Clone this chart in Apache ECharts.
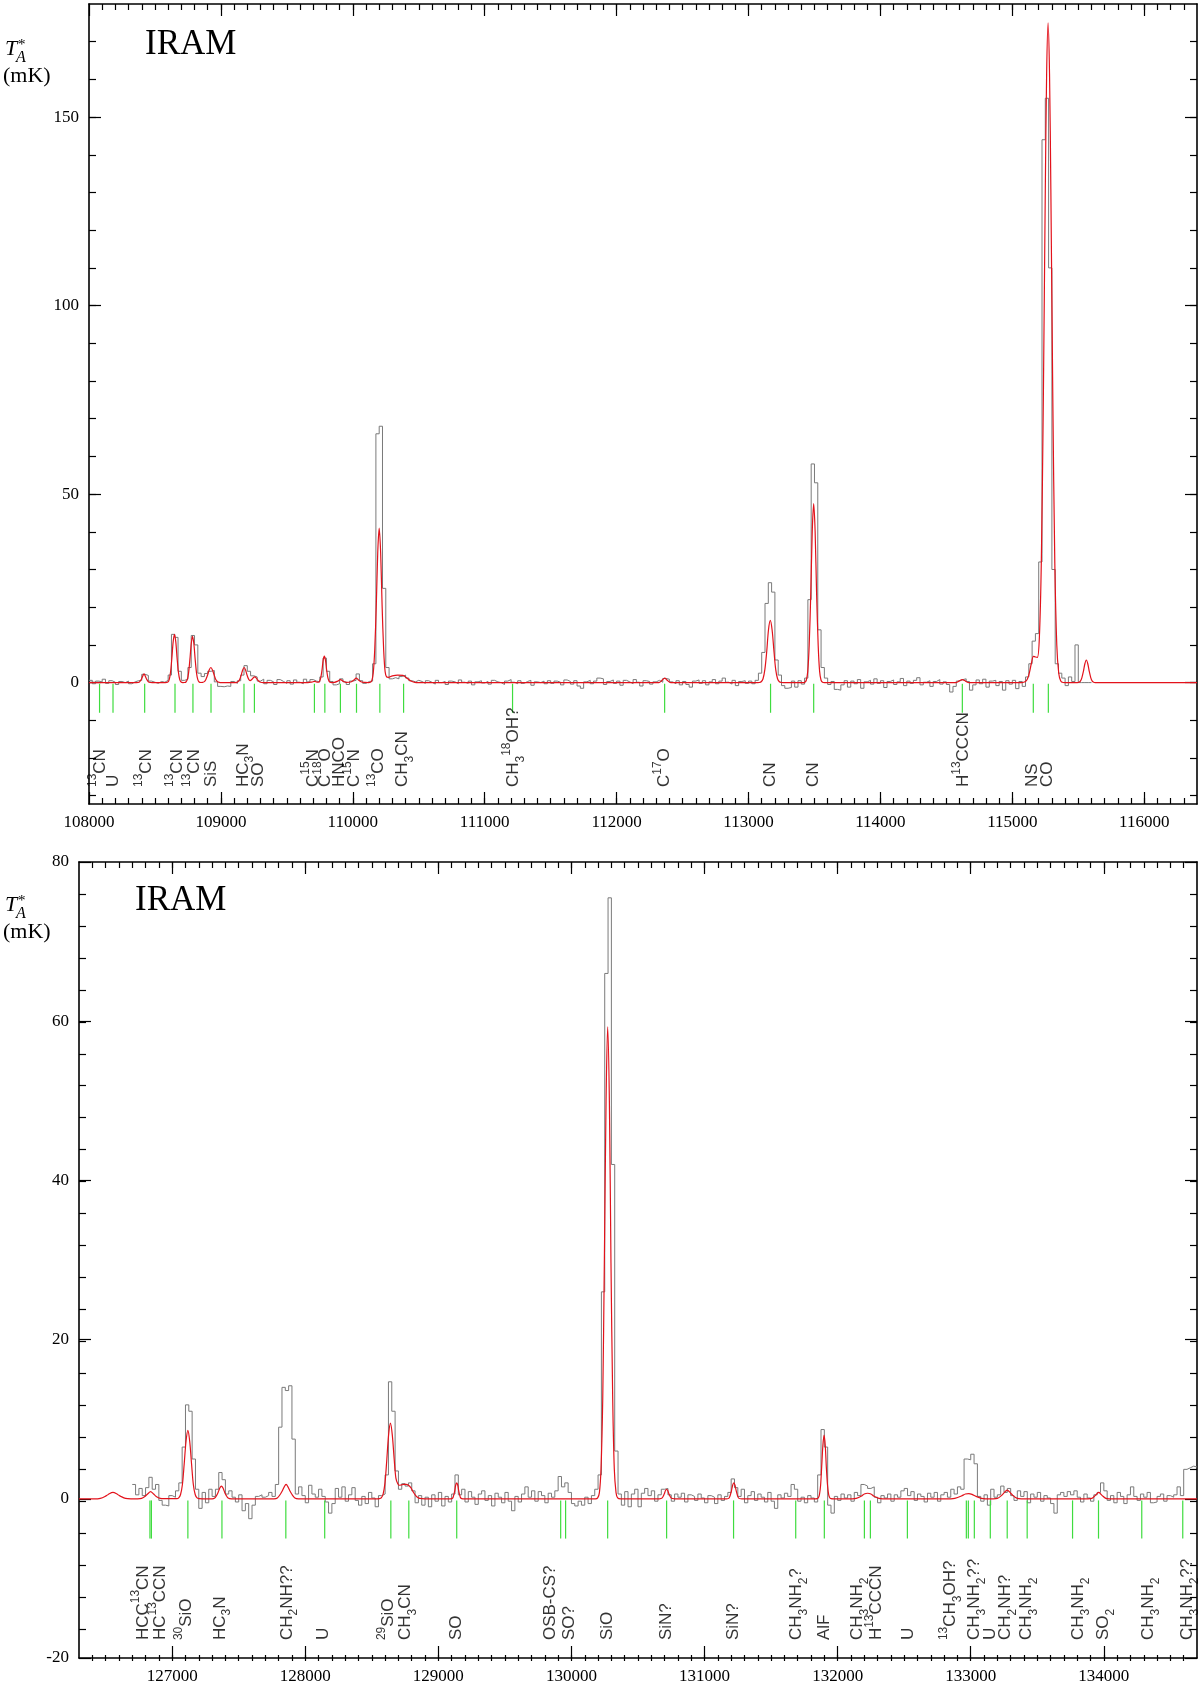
<!DOCTYPE html>
<html><head><meta charset="utf-8">
<script src="https://cdn.jsdelivr.net/npm/echarts@6/dist/echarts.min.js"></script>
<style>html,body{margin:0;padding:0;background:#fff}#c{width:1200px;height:1685px}</style>
</head><body><div id="c"></div><script>
// ---------------- DATA ----------------
const specChan = 25; // MHz per channel
const topSpecStart = 108000;
const topSpectrum = [
0.6,-0.3,0.4,0.2,0.9,-0.2,0.5,0.1,-0.5,0.3,0.0,0.4,-0.3,0.2,0.5,0.6,2.2,1.9,0.4,0.1,
-0.2,0.3,0.1,0.6,2.0,12.8,12.0,3.0,0.6,0.9,4.0,12.5,10.0,2.5,1.6,2.4,3.0,3.2,0.2,-1.0,
-1.1,-0.9,-1.0,0.3,-0.2,0.5,2.0,4.5,3.0,1.8,1.5,0.4,0.9,-0.3,0.6,0.2,-0.5,0.8,0.3,-0.2,
0.5,-0.4,0.7,0.1,-0.3,0.9,0.2,0.8,0.4,0.2,1.5,6.5,3.0,0.3,-0.6,-0.3,1.0,0.2,-0.5,0.4,
0.6,2.3,0.5,-0.2,0.3,0.4,5.0,66,68,25,4.0,1.0,1.3,1.0,1.6,2.0,1.2,0.5,0.2,0.6,
0.3,-0.2,0.5,0.1,-0.4,0.6,0.0,0.3,-0.5,0.4,0.2,-0.3,0.7,0.1,-0.2,0.4,-0.6,0.2,0.5,-0.1,
0.3,-0.4,0.6,0.2,0.0,-0.5,0.4,0.8,0.1,-0.3,0.5,-0.2,0.3,0.6,-0.7,0.2,0.0,0.4,-0.3,0.5,
-0.2,0.4,0.1,-0.6,0.7,0.3,-0.4,0.5,-0.9,-1.5,0.2,0.6,-0.3,0.4,1.2,1.0,-0.5,0.3,0.7,-0.2,
0.4,-0.7,0.6,0.2,-0.3,0.8,0.1,-0.9,0.5,0.3,-0.4,0.2,0.6,0.1,1.1,0.9,0.2,-0.3,0.5,-0.6,
0.3,-0.5,-1.2,0.4,0.7,-0.2,0.5,-0.6,0.2,0.8,-0.3,0.4,1.2,0.1,-0.4,0.6,-0.8,0.3,0.5,-0.2,
0.4,-0.3,0.6,2.5,8.0,21,26.5,24,6.0,2.0,-0.8,-1.5,-1.3,0.4,-1.2,0.5,-0.4,1.2,22,58,
53,14,4.0,1.2,-0.5,0.3,-1.8,-2.0,-0.6,0.5,-1.2,0.4,-0.3,0.8,-1.5,0.2,0.6,-0.4,1.0,-0.2,
0.5,-1.3,0.3,0.7,-0.5,0.2,1.1,-0.8,0.4,-0.2,0.6,1.3,-0.6,0.1,0.5,-1.0,0.3,0.8,-0.4,0.2,
-0.5,-2.5,-1.0,0.4,0.8,1.0,0.3,-2.0,-0.6,0.7,-0.3,0.9,-1.2,0.4,0.6,-0.8,0.3,-2.0,0.5,-0.4,
0.6,-1.6,0.3,-1.0,1.5,5.0,11,13,32,144,155,110,30,5.0,2.5,1.2,-0.8,1.5,0.3,10,0,0,0,0
];
const topModel = [
[108000,0],[108360,0],[108380,0.1],[108397,0.9],[108407,1.7],[108417,2.3],[108427,1.7],[108437,0.9],[108455,0.1],[108480,0],
[108578,0],[108598,0.17],[108608,0.8],[108618,2.7],[108628,6.4],[108638,10.8],[108648,12.8],[108658,10.8],[108668,6.4],[108678,2.7],[108688,0.8],[108698,0.17],[108712,0.02],
[108725,0.03],[108735,0.16],[108745,0.77],[108755,2.6],[108765,6.15],[108775,10.3],[108785,12.3],[108795,10.3],[108805,6.15],[108815,2.6],[108825,0.77],[108835,0.16],[108848,0.03],
[108861,0.05],[108874,0.25],[108886,0.84],[108899,2.0],[108911,3.36],[108924,4.0],[108936,3.36],[108949,2.0],[108961,0.84],[108974,0.25],[108987,0.05],[109005,0],
[109100,0],[109120,0.05],[109131,0.25],[109142,0.84],[109154,2.0],[109165,3.36],[109176,4.0],[109187,3.36],[109198,2.02],[109210,0.93],[109221,0.53],[109232,0.74],[109244,1.24],[109256,1.5],[109267,1.26],[109278,0.75],[109290,0.3],[109301,0.09],[109320,0.01],
[109660,0],[109690,0.15],[109709,0.3],[109728,0.15],[109740,0.1],[109749,0.44],[109758,1.47],[109767,3.5],[109775,5.9],[109784,7.0],[109793,5.9],[109801,3.5],[109810,1.47],[109819,0.44],[109828,0.09],[109840,0.01],
[109860,0.05],[109886,0.4],[109906,0.8],[109926,0.4],[109950,0.05],
[109985,0.15],[110006,0.6],[110026,1.2],[110046,0.6],[110066,0.15],[110090,0.05],
[110120,0.02],[110133,0.08],[110144,0.54],[110155,2.56],[110166,8.6],[110178,20.5],[110189,34.5],[110200,41],[110211,34.5],[110222,20.5],[110234,8.6],[110245,2.9],[110256,1.5],[110270,1.4],[110300,1.8],[110340,2.0],[110380,1.9],[110410,1.2],[110440,0.4],[110470,0.05],[110500,0],
[112320,0],[112344,0.6],[112364,1.2],[112384,0.6],[112410,0],
[113070,0],[113083,0.03],[113096,0.22],[113110,1.03],[113124,3.5],[113138,8.25],[113151,13.9],[113165,16.5],[113179,13.9],[113193,8.25],[113206,3.5],[113220,1.03],[113234,0.22],[113248,0.03],[113265,0],
[113415,0],[113427,0.1],[113438,0.62],[113449,2.97],[113460,10.0],[113472,23.75],[113483,40],[113494,47.5],[113505,40],[113516,23.75],[113528,10.0],[113539,2.97],[113550,0.62],[113561,0.1],[113575,0],
[114570,0],[114595,0.4],[114620,0.8],[114645,0.4],[114670,0],
[115070,0],[115100,0.28],[115115,1.0],[115130,2.7],[115145,5.2],[115160,6.95],[115175,6.8],[115190,6.7],[115205,12],[115220,32.4],[115235,75],[115250,131],[115260,161.5],[115271,175],[115282,161.5],[115292,131],[115307,74.8],[115322,31.7],[115337,10.0],[115352,2.4],[115367,0.42],[115385,0.03],[115400,0],
[115480,0],[115494,0.01],[115505,0.08],[115516,0.38],[115527,1.26],[115539,3.0],[115550,5.0],[115561,6.0],[115572,5.0],[115583,3.0],[115595,1.26],[115606,0.38],[115617,0.08],[115628,0.01],[115650,0],[116400,0]
];
const topLineFreqs = [108080,108182,108422,108652,108788,108925,109175,109254,109709,109788,109906,110028,110205,110385,111211,112364,113167,113494,114621,115159,115273];
const topLabelFreqs = [108083,108182,108432,108667,108795,108924,109167,109280,109697,109788,109894,110015,110197,110379,111220,112364,113167,113493,114629,115152,115265];
const topLabelTexts = ['^13^CN','U','^13^CN','^13^CN','^13^CN','SiS','HC_3_N','SO','C^15^N','C^18^O','HNCO','C^15^N','^13^CO','CH_3_CN','CH_3_^18^OH?','C^17^O','CN','CN','H^13^CCCN','NS','CO'];
const topXTicks = [108000,109000,110000,111000,112000,113000,114000,115000,116000];
const topYTicks = [0,50,100,150];

const botSpecStart = 126700;
const botSpectrum = [
1.8,0.5,1.3,0.4,1.4,2.7,1.2,1.8,-0.2,-0.8,-0.9,0.4,0.2,1.0,2.0,6.5,11.8,11.0,5.0,1.2,
-1.2,0.8,-0.5,1.2,0.3,1.2,3.3,2.4,0.6,1.0,0.2,-0.4,0.5,-1.5,-0.6,-2.5,-0.8,0.3,0.5,0.2,
0.4,0.8,0.3,1.8,9.0,14.0,13.6,14.2,7.5,0.6,1.5,0.4,-0.5,1.7,0.6,0.2,1.2,0.3,-0.4,-1.8,
-0.6,1.3,0.2,1.5,-0.3,0.5,1.4,-0.2,-0.8,0.3,-0.6,0.8,0.1,-1.0,0.4,0.6,3.0,14.7,11.0,3.5,
1.2,1.9,1.6,2.0,1.0,-0.5,0.4,-0.8,0.2,-1.0,0.5,-0.3,0.8,-0.9,0.3,-0.4,0.6,3.0,0.5,1.2,
-0.4,0.9,0.2,-0.7,0.6,1.0,-0.2,0.4,-0.9,0.7,0.2,-0.5,0.8,-0.3,-1.5,0.3,-0.4,0.6,1.5,0.2,
1.0,-0.3,0.9,0.4,-0.5,0.7,0.2,1.0,2.8,1.5,2.0,0.8,-0.6,-0.9,-0.3,-0.8,0.2,-0.6,0.4,1.2,
3.0,26,66,75.5,42,6.0,0.6,-0.8,0.9,-1.0,0.6,1.2,-1.0,0.7,1.3,0.4,1.0,-0.3,0.5,1.2,
1.3,0.5,-0.3,0.6,0.2,0.7,-0.4,0.5,0.3,-0.2,0.6,0.1,-0.5,0.4,0.2,-0.6,0.5,-0.2,0.3,0.8,
2.5,1.4,0.3,1.2,-0.5,0.4,0.9,-0.2,0.6,0.2,-0.4,0.8,-0.3,-1.2,0.5,0.1,0.7,0.3,1.8,1.2,
-0.3,0.2,-0.5,0.4,0.1,-0.4,3.0,8.7,6.5,-0.8,-1.8,0.3,-0.2,0.6,0.1,0.5,-0.3,0.8,0.4,1.8,
1.6,1.3,1.5,0.2,-0.5,0.4,0.1,0.6,-0.3,0.5,0.2,1.0,1.3,0.4,0.9,-0.2,0.6,0.3,-0.4,0.7,
0.2,0.8,-0.3,0.5,0.8,0.2,1.2,0.6,1.5,1.2,5.0,4.9,5.6,4.4,0.3,-0.3,0.5,-0.8,1.2,0.2,
0.5,1.6,0.8,1.3,0.4,-0.2,1.0,0.3,0.9,-0.5,0.6,0.2,0.8,-0.3,0.4,0.1,-0.6,-1.8,0.5,0.8,
0.3,0.9,0.5,1.0,0.2,-0.4,0.6,0.1,-0.3,0.5,0.8,2.0,1.0,-0.2,0.4,-0.5,0.8,0.3,-0.6,0.5,
1.5,0.3,-0.2,0.6,0.2,0.8,-0.5,-0.4,0.3,0.6,-0.3,0.4,0.2,0.5,1.5,0.4,3.7,3.9,4.1,4.0
];
const botModel = [
[126300,0],[126440,0],[126460,0.05],[126495,0.3],[126520,0.55],[126555,0.8],[126590,0.55],[126615,0.3],[126650,0.05],[126690,0],
[126740,0],[126770,0.05],[126795,0.3],[126815,0.6],[126838,0.9],[126860,0.6],[126880,0.3],[126910,0.05],[126940,0.01],
[127035,0.02],[127049,0.11],[127063,0.54],[127077,1.8],[127090,4.3],[127104,7.2],[127118,8.6],[127132,7.2],[127146,4.3],[127159,1.8],[127173,0.54],[127187,0.11],[127201,0.02],[127230,0],
[127300,0],[127320,0.1],[127333,0.4],[127345,0.8],[127358,1.35],[127370,1.6],[127382,1.35],[127395,0.8],[127407,0.4],[127420,0.1],[127445,0],
[127765,0],[127790,0.1],[127814,0.6],[127828,1.0],[127842,1.5],[127856,1.8],[127870,1.5],[127884,1.0],[127898,0.6],[127922,0.1],[127950,0],
[128540,0],[128557,0.02],[128571,0.12],[128585,0.6],[128599,2.0],[128612,4.75],[128626,8.0],[128640,9.5],[128654,8.0],[128668,5.0],[128681,2.6],[128695,1.9],[128709,1.7],[128723,1.75],[128740,1.8],[128757,1.8],[128775,1.7],[128793,1.4],[128810,0.9],[128830,0.4],[128850,0.12],[128875,0.02],[128900,0],
[129090,0],[129108,0.1],[129116,0.5],[129123,1.0],[129130,1.7],[129138,2.0],[129146,1.7],[129153,1.0],[129160,0.5],[129168,0.1],[129185,0],
[130180,0],[130197,0.12],[130210,0.78],[130222,3.7],[130235,12.5],[130247,29.6],[130260,49.9],[130272,59.3],[130285,49.9],[130297,29.6],[130310,12.5],[130322,3.7],[130335,0.78],[130347,0.12],[130370,0],
[130660,0],[130680,0.08],[130697,0.6],[130706,1.0],[130715,1.2],[130724,1.0],[130733,0.6],[130750,0.08],[130775,0],
[131165,0],[131185,0.1],[131202,1.0],[131211,1.7],[131220,2.0],[131229,1.7],[131238,1.0],[131255,0.1],[131280,0],
[131830,0],[131846,0.02],[131854,0.1],[131863,0.5],[131872,1.7],[131880,4.0],[131889,6.7],[131898,8.0],[131907,6.7],[131915,4.0],[131924,1.7],[131933,0.5],[131942,0.1],[131950,0.02],[131970,0],
[132110,0],[132140,0.05],[132180,0.35],[132200,0.6],[132225,0.7],[132250,0.6],[132270,0.35],[132310,0.05],[132340,0],
[132850,0],[132880,0.05],[132930,0.35],[132960,0.6],[132985,0.65],[133010,0.55],[133040,0.3],[133080,0.05],[133110,0],
[133170,0],[133200,0.05],[133230,0.4],[133250,0.75],[133274,1.1],[133298,0.75],[133318,0.4],[133350,0.05],[133380,0],
[133880,0],[133910,0.05],[133935,0.4],[133962,0.8],[133988,0.4],[134015,0.05],[134040,0],[134700,0]
];
const botLineFreqs = [126833,126844,127118,127374,127854,128146,128643,128778,129138,129919,129956,130272,130715,131218,131685,131900,132201,132246,132524,132967,132982,133027,133147,133274,133424,133765,133960,134285,134593];
const botLabelFreqs = [126780,126908,127103,127359,127862,128132,128627,128755,129138,129844,129986,130272,130715,131218,131691,131901,132149,132291,132532,132847,133027,133147,133260,133418,133808,133996,134334,134627];
const botLabelTexts = ['HCC^13^CN','HC^13^CCN','^30^SiO','HC_3_N','CH_2_NH??','U','^29^SiO','CH_3_CN','SO','OSB-CS?','SO?','SiO','SiN?','SiN?','CH_3_NH_2_?','AlF','CH_3_NH_2_','H^13^CCCN','U','^13^CH_3_OH?','CH_3_NH_2_??','U','CH_2_NH?','CH_3_NH_2_','CH_3_NH_2_','SO_2_','CH_3_NH_2_','CH_3_NH_2_??'];
const botXTicks = [127000,128000,129000,130000,131000,132000,133000,134000];
const botYTicks = [-20,0,20,40,60,80];

// ---------------- BUILD ----------------
function range(a, b, s) { const r = []; for (let v = a; v <= b + 1e-9; v += s) r.push(Math.round(v * 1000) / 1000); return r; }
function specData(start, vals) {
  const d = vals.map((v, i) => [start + i * specChan, v]);
  d.push([start + vals.length * specChan, vals[vals.length - 1]]);
  return d;
}
function toRich(s) {
  let out = ''; const re = /\^([^\^]+)\^|_([^_]+)_|([^\^_]+)/g; let m;
  while ((m = re.exec(s))) {
    if (m[1]) out += '{sp|' + m[1] + '}';
    else if (m[2]) out += '{sb|' + m[2] + '}';
    else out += '{n|' + m[3] + '}';
  }
  return out;
}
const TOP = { xmin: 108000, xmax: 116400, ymin: -32.2, ymax: 180 };
const BOT = { xmin: 126300, xmax: 134700, ymin: -20, ymax: 80 };
const grids = [
  { left: 89, top: 4, width: 1108, height: 800 },
  { left: 89, top: 4, width: 1108, height: 800 },
  { left: 79, top: 862, width: 1118, height: 799 },
  { left: 79, top: 862, width: 1118, height: 799 }
];
const lblFont = { color: '#000', fontFamily: '"Liberation Serif", serif', fontSize: 17 };
function ax(grid, pos, min, max, ticks, len, labels, line) {
  return {
    type: 'value', gridIndex: grid, position: pos, min: min, max: max,
    axisLine: { show: line, onZero: false, lineStyle: { color: '#000', width: 1.6 } },
    axisTick: { show: true, inside: true, length: len, customValues: ticks, lineStyle: { color: '#000', width: 1.2 } },
    axisLabel: Object.assign({ show: labels, customValues: ticks, margin: 10, formatter: v => String(v) }, lblFont),
    splitLine: { show: false }
  };
}
const xAxes = [
  ax(0, 'bottom', TOP.xmin, TOP.xmax, topXTicks, 12, true, true),
  ax(0, 'top', TOP.xmin, TOP.xmax, topXTicks, 12, false, true),
  ax(1, 'bottom', TOP.xmin, TOP.xmax, range(108100, 116300, 100), 6, false, false),
  ax(1, 'top', TOP.xmin, TOP.xmax, range(108100, 116300, 100), 6, false, false),
  ax(2, 'bottom', BOT.xmin, BOT.xmax, botXTicks, 12, true, true),
  ax(2, 'top', BOT.xmin, BOT.xmax, botXTicks, 12, false, true),
  ax(3, 'bottom', BOT.xmin, BOT.xmax, range(126400, 134600, 100), 6, false, false),
  ax(3, 'top', BOT.xmin, BOT.xmax, range(126400, 134600, 100), 6, false, false)
];
const yAxes = [
  ax(0, 'left', TOP.ymin, TOP.ymax, topYTicks, 12, true, true),
  ax(0, 'right', TOP.ymin, TOP.ymax, topYTicks, 12, false, true),
  ax(1, 'left', TOP.ymin, TOP.ymax, range(-30, 170, 10), 7, false, false),
  ax(1, 'right', TOP.ymin, TOP.ymax, range(-30, 170, 10), 7, false, false),
  ax(2, 'left', BOT.ymin, BOT.ymax, botYTicks, 12, true, true),
  ax(2, 'right', BOT.ymin, BOT.ymax, botYTicks, 12, false, true),
  ax(3, 'left', BOT.ymin, BOT.ymax, range(-16, 76, 4), 7, false, false),
  ax(3, 'right', BOT.ymin, BOT.ymax, range(-16, 76, 4), 7, false, false)
];
const richStyles = {
  n: { fontFamily: 'Liberation Sans', fontSize: 17, lineHeight: 26, color: '#000' },
  sp: { fontFamily: 'Liberation Sans', fontSize: 12, lineHeight: 12, verticalAlign: 'top', color: '#000' },
  sb: { fontFamily: 'Liberation Sans', fontSize: 12, lineHeight: 12, verticalAlign: 'bottom', color: '#000' }
};
function panelSeries(axisIdx, spec, model, lines, lineY, lblFreqs, lblTexts, lblY) {
  return [
    { type: 'line', xAxisIndex: axisIdx, yAxisIndex: axisIdx, data: spec, step: 'end', symbol: 'none',
      lineStyle: { color: '#7a7a7a', width: 1 }, z: 2, silent: true },
    { type: 'line', xAxisIndex: axisIdx, yAxisIndex: axisIdx, data: model, smooth: 0.3, symbol: 'none',
      lineStyle: { color: '#e3121b', width: 1.2 }, z: 3, silent: true },
    { type: 'custom', xAxisIndex: axisIdx, yAxisIndex: axisIdx, data: lines.map(f => [f, 0]), z: 4, silent: true,
      renderItem: function (params, api) {
        const p1 = api.coord([api.value(0), lineY[0]]);
        const p2 = api.coord([api.value(0), lineY[1]]);
        return { type: 'line', shape: { x1: p1[0], y1: p1[1], x2: p2[0], y2: p2[1] },
          style: { stroke: '#3fdc3f', lineWidth: 1.2 } };
      } },
    { type: 'scatter', xAxisIndex: axisIdx, yAxisIndex: axisIdx, data: lblFreqs.map((f, i) => [f, lblY, i]),
      symbolSize: 1, itemStyle: { color: 'rgba(0,0,0,0)' }, z: 5, silent: true,
      label: { show: true, position: 'inside', rotate: 90, align: 'left', verticalAlign: 'middle',
        formatter: p => toRich(lblTexts[p.data[2]]), rich: richStyles } }
  ];
}
const series = [].concat(
  panelSeries(0, specData(topSpecStart, topSpectrum), topModel, topLineFreqs, [-0.3, -8], topLabelFreqs, topLabelTexts, -27.7),
  panelSeries(4, specData(botSpecStart, botSpectrum), botModel, botLineFreqs, [-0.2, -5], botLabelFreqs, botLabelTexts, -17.75)
);
function txt(x, y, text, font) {
  return { type: 'text', x: x, y: y, silent: true,
    style: { text: text, font: font, fill: '#000', textVerticalAlign: 'middle', verticalAlign: 'middle', textAlign: 'left', align: 'left' } };
}
function yTitle(dy) {
  return [
    txt(5, 49.5 + dy, 'T', 'italic 22px "Liberation Serif"'),
    txt(18, 45 + dy, '*', '15px "Liberation Serif"'),
    txt(16, 58 + dy, 'A', 'italic 16px "Liberation Serif"'),
    txt(3, 76 + dy, '(mK)', '22px "Liberation Serif"')
  ];
}
const graphic = [].concat(
  yTitle(0), yTitle(856),
  [txt(145, 44.5, 'IRAM', '35px "Liberation Serif"'), txt(135, 900.5, 'IRAM', '35px "Liberation Serif"')]
);
const chart = echarts.init(document.getElementById('c'), null, { renderer: 'canvas' });
chart.setOption({
  animation: false, backgroundColor: '#fff',
  grid: grids, xAxis: xAxes, yAxis: yAxes, series: series, graphic: graphic
});
</script></body></html>
